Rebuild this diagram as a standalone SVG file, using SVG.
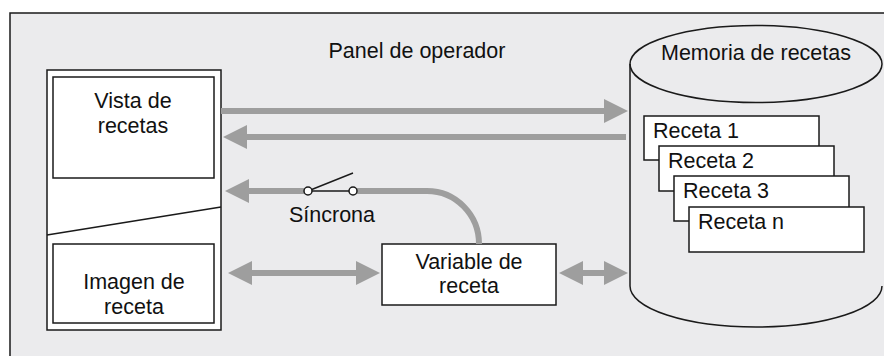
<svg xmlns="http://www.w3.org/2000/svg" width="884" height="356" viewBox="0 0 884 356">
  <defs>
    <style>
      .box { fill: #ffffff; stroke: #1a1a1a; stroke-width: 1.5; }
      .outline { fill: none; stroke: #1a1a1a; stroke-width: 1.5; }
      .flow { fill: none; stroke: #9e9e9e; stroke-width: 6; }
      .lbl { font-family: "Liberation Sans", Arial, sans-serif; font-size: 21.5px; fill: #111111; }
      .mid { text-anchor: middle; }
    </style>
    <marker id="head" viewBox="0 0 24 24" markerUnits="userSpaceOnUse" markerWidth="24" markerHeight="24" refX="0" refY="12" orient="auto-start-reverse">
      <path d="M0,0 L24,12 L0,24 Z" fill="#9e9e9e"/>
    </marker>
  </defs>

  <!-- background frame -->
  <rect x="10" y="13" width="880" height="350" fill="#ebebed" stroke="#1a1a1a" stroke-width="1.5"/>
  <text class="lbl mid" x="417" y="58">Panel de operador</text>

  <!-- operator panel -->
  <g id="panel">
    <rect class="box" x="47" y="70" width="174" height="260"/>
    <line class="outline" x1="47" y1="235" x2="221" y2="207"/>
  </g>
  <g id="vista">
    <rect class="box" x="53" y="77" width="161" height="101"/>
    <text class="lbl mid" x="133" y="108">Vista de</text>
    <text class="lbl mid" x="133" y="133">recetas</text>
  </g>
  <g id="imagen">
    <rect class="box" x="53" y="244" width="161" height="79"/>
    <text class="lbl mid" x="134" y="289">Imagen de</text>
    <text class="lbl mid" x="134" y="314">receta</text>
  </g>

  <!-- recipe variable -->
  <g id="variable">
    <rect class="box" x="382" y="244" width="174" height="61"/>
    <text class="lbl mid" x="469" y="269">Variable de</text>
    <text class="lbl mid" x="469" y="293">receta</text>
  </g>

  <!-- recipe memory -->
  <g id="memoria">
    <path class="outline" d="M630,64 L630,286 A126,41 0 0 0 882,286"/>
    <ellipse class="outline" cx="756" cy="64" rx="126" ry="38.5"/>
    <text class="lbl mid" x="756" y="60">Memoria de recetas</text>
  </g>
  <g id="receta1">
    <rect class="box" x="644" y="116" width="175" height="44"/>
    <text class="lbl" x="653" y="138">Receta 1</text>
  </g>
  <g id="receta2">
    <rect class="box" x="659" y="146" width="175" height="45"/>
    <text class="lbl" x="668" y="168">Receta 2</text>
  </g>
  <g id="receta3">
    <rect class="box" x="674" y="176" width="175" height="45"/>
    <text class="lbl" x="683" y="198">Receta 3</text>
  </g>
  <g id="recetan">
    <rect class="box" x="689" y="207" width="175" height="45"/>
    <text class="lbl" x="698" y="229">Receta n</text>
  </g>

  <!-- connectors -->
  <g id="connectors">
    <path class="flow" d="M221,111 L604,111" marker-end="url(#head)"/>
    <path class="flow" d="M626,137 L247,137" marker-end="url(#head)"/>
    <path class="flow" d="M252,273 L356,273" marker-start="url(#head)" marker-end="url(#head)"/>
    <path class="flow" d="M583,273 L604,273" marker-start="url(#head)" marker-end="url(#head)"/>
    <!-- synchronous path with switch -->
    <path class="flow" d="M479,244 A52,53 0 0 0 427,191 L353,191"/>
    <path class="flow" d="M308,191 L249,191" marker-end="url(#head)"/>
    <g id="switch">
      <line class="outline" x1="308" y1="191" x2="353" y2="191"/>
      <line class="outline" x1="308" y1="191" x2="353" y2="173"/>
      <circle cx="308" cy="191" r="4" fill="#ffffff" stroke="#1a1a1a" stroke-width="1.5"/>
      <circle cx="353" cy="191" r="4" fill="#ffffff" stroke="#1a1a1a" stroke-width="1.5"/>
    </g>
    <text class="lbl mid" x="332" y="222">Síncrona</text>
  </g>
</svg>
